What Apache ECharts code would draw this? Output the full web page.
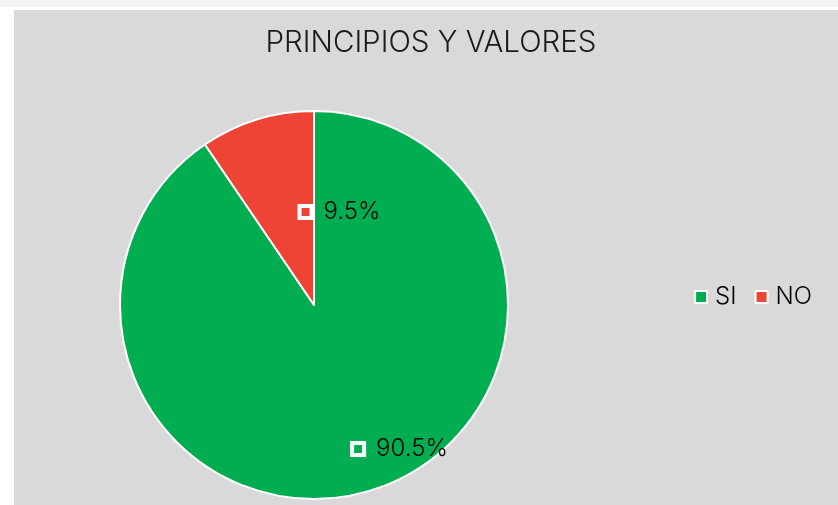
<!DOCTYPE html>
<html>
<head>
<meta charset="utf-8">
<script src="https://cdn.jsdelivr.net/npm/echarts@6/dist/echarts.min.js"></script>
<style>
  html, body { margin: 0; padding: 0; background: #ffffff; }
  #main { width: 838px; height: 505px; }
</style>
</head>
<body>
<div id="main"></div>
<script>
// datos del grafico
var titulo = 'PRINCIPIOS Y VALORES';
var categorias = ['SI', 'NO'];
var valores = [90.5, 9.5];
var colores = ['#00AD50', '#EE4436'];

// donde Excel dejo cada etiqueta (x, y del centro)
var posEtiquetas = [[400, 449], [340, 212]];

var FONT = 'Inter, "Noto Sans", sans-serif';

var chart = echarts.init(document.getElementById('main'));

chart.setOption({
  animation: false,
  graphic: [
    { type: 'rect', z: -10, shape: { x: 0, y: 0, width: 838, height: 7 }, style: { fill: '#f2f2f2' } },
    { type: 'rect', z: -10, shape: { x: 14, y: 10, width: 824, height: 495 }, style: { fill: '#d9d9d9' } }
  ],
  title: {
    text: titulo,
    left: 426,
    top: 23,
    textAlign: 'center',
    textStyle: { fontFamily: FONT, fontSize: 29.5, fontWeight: 300, color: '#1a1a1a' }
  },
  legend: {
    right: 21,
    top: 280,
    itemWidth: 12,
    itemHeight: 12,
    itemGap: 18,
    icon: 'rect',
    itemStyle: { borderColor: '#ffffff', borderWidth: 2 },
    textStyle: { fontFamily: FONT, fontSize: 24, fontWeight: 300, color: '#000000', padding: [0, 0, 0, 3] },
    data: categorias
  },
  series: [{
    type: 'pie',
    center: [314, 305],
    radius: [0, 194],
    startAngle: 90,
    clockwise: true,
    itemStyle: { borderColor: '#ffffff', borderWidth: 2 },
    label: {
      show: true,
      position: 'inside',
      formatter: function (p) { return '{box|}{val|' + p.value.toFixed(1) + '%}'; },
      rich: {
        box: { width: 12, height: 12, borderColor: '#ffffff', borderWidth: 2, backgroundColor: 'transparent' },
        val: { fontFamily: FONT, fontSize: 24, fontWeight: 300, color: '#000000', padding: [0, 0, 0, 12] }
      }
    },
    labelLine: { show: false },
    labelLayout: function (p) {
      var pos = posEtiquetas[p.dataIndex];
      return { x: pos[0], y: pos[1], align: 'center', verticalAlign: 'middle' };
    },
    data: categorias.map(function (c, i) {
      return { name: c, value: valores[i], itemStyle: { color: colores[i] } };
    })
  }]
});
</script>
</body>
</html>
